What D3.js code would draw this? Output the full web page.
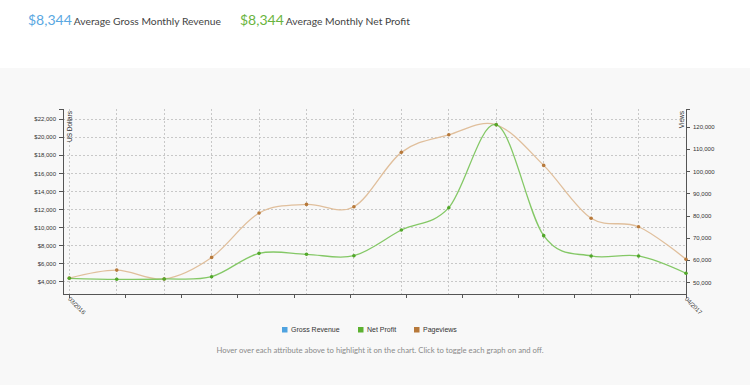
<!DOCTYPE html>
<html>
<head>
<meta charset="utf-8">
<script src="https://cdnjs.cloudflare.com/ajax/libs/d3/7.8.5/d3.min.js"></script>
<style>
  body { margin: 0; background: #fff; }
  svg { display: block; }
  .axis path, .axis line { stroke: #555; fill: none; shape-rendering: crispEdges; }
  .axis text { font-family: Arial, "Liberation Sans", sans-serif; font-size: 6px; fill: #333; }
  .grid line { stroke: #c8c8c8; stroke-dasharray: 2,2; shape-rendering: crispEdges; }
</style>
</head>
<body>
<svg width="750" height="385"></svg>
<script>
// data
var months = ['03/2016','04/2016','05/2016','06/2016','07/2016','08/2016','09/2016',
              '10/2016','11/2016','12/2016','01/2017','02/2017','03/2017','04/2017'];
var netProfit = [4330, 4220, 4255, 4510, 7100, 6995, 6840, 9690, 12165, 21370, 9060, 6810, 6810, 4890];
var pageviews = [51900, 55500, 51500, 61200, 81150, 85050, 84000, 108450, 116350, 120850, 102600, 78800, 75000, 60350];
var dollarTicks = [4000, 6000, 8000, 10000, 12000, 14000, 16000, 18000, 20000, 22000];
var viewTicks = [50000, 60000, 70000, 80000, 90000, 100000, 110000, 120000];
var legendNames = ['Gross Revenue', 'Net Profit', 'Pageviews'];
var legendColors = ['#4fa3e0', '#5cb130', '#b7793a'];

function main() {
    var svg = d3.select('svg');

    // backgrounds
    svg.append('rect').attr('width', 750).attr('height', 385).attr('fill', '#fff');
    svg.append('rect').attr('y', 68).attr('width', 750).attr('height', 317).attr('fill', '#f8f8f8');

    // header
    var head = svg.append('text').attr('x', 28).attr('y', 25)
        .style('font-family', 'Lato, sans-serif');
    head.append('tspan').attr('fill', '#5aa8e2').style('font-size', '14px').text('$8,344');
    head.append('tspan').attr('fill', '#444').attr('dx', 2).style('font-size', '10.3px').text('Average Gross Monthly Revenue');
    var head2 = svg.append('text').attr('x', 240).attr('y', 25)
        .style('font-family', 'Lato, sans-serif');
    head2.append('tspan').attr('fill', '#6ab43e').style('font-size', '14px').text('$8,344');
    head2.append('tspan').attr('fill', '#444').attr('dx', 2).style('font-size', '10.3px').text('Average Monthly Net Profit');

    var top = 109, bottom = 294, left = 63, right = 686;

    var xScale = d3.scalePoint().domain(months).range([69.3, right]);
    var xTick = d3.scaleLinear().domain([0, 11]).range([69.3, right]);
    var yLeft = d3.scaleLinear().domain([2590, 23110]).range([bottom, top]);
    var yRight = d3.scaleLinear().domain([44740, 127960]).range([bottom, top]);

    var g = svg.append('g');

    // grid
    g.append('g').attr('class', 'grid')
     .selectAll('line.h').data(dollarTicks).enter().append('line')
     .attr('x1', left).attr('x2', right)
     .attr('y1', function(d) {return yLeft(d);})
     .attr('y2', function(d) {return yLeft(d);});
    g.append('g').attr('class', 'grid')
     .selectAll('line.v').data(months).enter().append('line')
     .attr('x1', function(d) {return xScale(d);})
     .attr('x2', function(d) {return xScale(d);})
     .attr('y1', top).attr('y2', bottom);

    // x axis
    g.append('g').attr('class', 'axis')
     .attr('transform', 'translate(0,' + bottom + ')')
     .call(d3.axisBottom(xTick).tickValues(d3.range(12)).tickSize(4).tickSizeOuter(0)
        .tickFormat(function(d) {return d === 0 ? months[0] : (d === 11 ? months[months.length - 1] : '');}))
     .call(function(a) {a.select('.domain').attr('d', 'M' + left + ',0.5H' + right);})
     .selectAll('text')
     .attr('y', 0).attr('x', 0)
     .attr('dx', '0.4em').attr('dy', '0.9em')
     .attr('transform', 'rotate(45)')
     .style('text-anchor', 'start');

    // left axis
    g.append('g').attr('class', 'axis')
     .attr('transform', 'translate(' + left + ',0)')
     .call(d3.axisLeft(yLeft).tickValues(dollarTicks).tickSize(4).tickSizeOuter(4)
        .tickFormat(function(d) {return '$' + d3.format(',')(d);}))
     .call(function(a) {a.select('.domain').attr('d', 'M-4,' + top + 'H0.5V' + bottom);});

    g.append('text')
     .attr('transform', 'translate(72,' + (top + 2) + ') rotate(-90)')
     .attr('text-anchor', 'end')
     .style('font-family', 'Arial, sans-serif').style('font-size', '6.5px').attr('fill', '#333')
     .text('US Dollars');

    // right axis
    g.append('g').attr('class', 'axis')
     .attr('transform', 'translate(' + right + ',0)')
     .call(d3.axisRight(yRight).tickValues(viewTicks).tickSize(4).tickSizeOuter(4)
        .tickFormat(d3.format(',')))
     .call(function(a) {a.select('.domain').attr('d', 'M4,' + top + 'H0.5V' + bottom);});

    g.append('text')
     .attr('transform', 'translate(684,' + (top + 2) + ') rotate(-90)')
     .attr('text-anchor', 'end')
     .style('font-family', 'Arial, sans-serif').style('font-size', '6.5px').attr('fill', '#333')
     .text('Views');

    // lines
    var curve = d3.curveCardinal.tension(0);
    var viewLine = d3.line()
        .x(function(d, i) {return xScale(months[i]);})
        .y(function(d) {return yRight(d);})
        .curve(curve);
    var profitLine = d3.line()
        .x(function(d, i) {return xScale(months[i]);})
        .y(function(d) {return yLeft(d);})
        .curve(curve);

    g.append('path').datum(pageviews)
     .attr('d', viewLine).attr('fill', 'none')
     .attr('stroke', '#e0bf9c').attr('stroke-width', 1.3);
    g.append('path').datum(netProfit)
     .attr('d', profitLine).attr('fill', 'none')
     .attr('stroke', '#84c866').attr('stroke-width', 1.3);

    g.selectAll('.pv').data(pageviews).enter().append('circle')
     .attr('cx', function(d, i) {return xScale(months[i]);})
     .attr('cy', function(d) {return yRight(d);})
     .attr('r', 1.8).attr('fill', '#b7793a');
    g.selectAll('.np').data(netProfit).enter().append('circle')
     .attr('cx', function(d, i) {return xScale(months[i]);})
     .attr('cy', function(d) {return yLeft(d);})
     .attr('r', 1.8).attr('fill', '#52a82a');

    // legend
    var legendX = [282, 358, 414];
    var legend = svg.selectAll('.legend').data(legendNames).enter().append('g')
        .attr('transform', function(d, i) {return 'translate(' + legendX[i] + ',327)';});
    legend.append('rect').attr('width', 5.5).attr('height', 5.5)
        .attr('fill', function(d, i) {return legendColors[i];});
    legend.append('text').attr('x', 9).attr('y', 5.2)
        .style('font-family', 'Arial, sans-serif').style('font-size', '7px').attr('fill', '#333')
        .text(function(d) {return d;});

    svg.append('text').attr('x', 380).attr('y', 353)
     .attr('text-anchor', 'middle')
     .style('font-family', 'Lato, sans-serif').style('font-size', '7.7px').attr('fill', '#8a8a8a')
     .text('Hover over each attribute above to highlight it on the chart. Click to toggle each graph on and off.');
}
main();
</script>
</body>
</html>
